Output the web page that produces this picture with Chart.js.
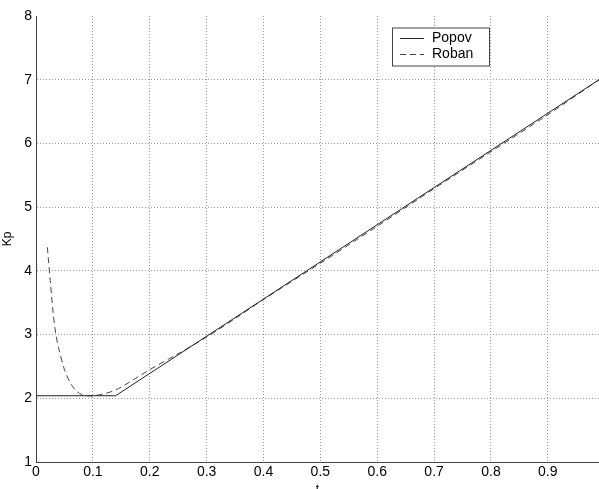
<!DOCTYPE html>
<html>
<head>
<meta charset="utf-8">
<script src="https://cdn.jsdelivr.net/npm/chart.js@4"></script>
<style>
  html, body { margin: 0; padding: 0; background: #fff; overflow: hidden; }
  #wrap { width: 599px; height: 497px; }
</style>
</head>
<body>
<div id="wrap"><canvas id="chartKp"></canvas></div>
<script>
'use strict';

// data
const popovX = [0, 0.14, 0.99];
const popovY = [2.04, 2.04, 7.0];

const robanX = [0.02, 0.025, 0.03, 0.035, 0.04, 0.05, 0.06, 0.07, 0.08, 0.09, 0.1, 0.12, 0.14, 0.16, 0.18, 0.2, 0.25, 0.3, 0.35, 0.4, 0.5, 0.6, 0.7, 0.8, 0.9, 0.99];
const robanY = [4.37, 3.85, 3.35, 3.0, 2.78, 2.45, 2.25, 2.12, 2.06, 2.04, 2.04, 2.07, 2.13, 2.23, 2.34, 2.45, 2.7, 2.96, 3.25, 3.55, 4.12, 4.7, 5.29, 5.87, 6.45, 7.0];

const xTicks = [0, 0.1, 0.2, 0.3, 0.4, 0.5, 0.6, 0.7, 0.8, 0.9];
const yTicks = [1, 2, 3, 4, 5, 6, 7, 8];
const seriesNames = ['Popov', 'Roban'];

const FONT = 'Liberation Sans, Arial, sans-serif';

function pts(xs, ys) {
  return xs.map((x, i) => ({ x: x, y: ys[i] }));
}

// legend box drawn inside the axes like matlab does
const boxLegend = {
  id: 'boxLegend',
  afterDraw(chart) {
    const ctx = chart.ctx;
    const x0 = 392, y0 = 27.5, w = 97, h = 38;
    ctx.save();
    ctx.fillStyle = '#fff';
    ctx.fillRect(x0, y0, w, h);
    ctx.strokeStyle = '#444';
    ctx.lineWidth = 1;
    ctx.strokeRect(x0 + 0.5, y0 + 0.5, w, h);
    chart.data.datasets.forEach((ds, i) => {
      const yy = y0 + 11 + i * 16;
      ctx.strokeStyle = ds.borderColor;
      ctx.lineWidth = 1;
      ctx.setLineDash(ds.borderDash || []);
      ctx.beginPath();
      ctx.moveTo(400, yy);
      ctx.lineTo(424, yy);
      ctx.stroke();
      ctx.setLineDash([]);
      ctx.fillStyle = '#000';
      ctx.font = '14px ' + FONT;
      ctx.textBaseline = 'middle';
      ctx.fillText(ds.label, 432, yy);
    });
    ctx.restore();
  }
};

new Chart(document.getElementById('chartKp'), {
  type: 'line',
  data: {
    datasets: [
      {
        label: seriesNames[0],
        data: pts(popovX, popovY),
        borderColor: '#222',
        borderWidth: 1,
        pointRadius: 0,
        tension: 0
      },
      {
        label: seriesNames[1],
        data: pts(robanX, robanY),
        borderColor: '#444',
        borderWidth: 1,
        borderDash: [6, 4],
        pointRadius: 0,
        tension: 0.3
      }
    ]
  },
  options: {
    responsive: true,
    maintainAspectRatio: false,
    animation: false,
    layout: { padding: { top: 16, right: 0, left: 0, bottom: 0 } },
    plugins: {
      legend: { display: false },
      tooltip: { enabled: false }
    },
    scales: {
      x: {
        type: 'linear',
        min: 0,
        max: 0.99,
        afterBuildTicks: (s) => { s.ticks = xTicks.map(v => ({ value: v })); },
        afterFit: (s) => { s.height = 35; },
        title: {
          display: true,
          text: 't',
          color: '#000',
          font: { family: FONT, size: 12 },
          padding: 0
        },
        ticks: {
          color: '#000',
          font: { family: FONT, size: 14 },
          padding: 2,
          maxRotation: 0,
          callback: (v) => String(Math.round(v * 10) / 10)
        },
        grid: {
          color: (c) => (c.tick && c.tick.value === 0) ? 'rgba(0,0,0,0)' : '#999',
          tickLength: 0
        },
        border: { color: '#444', width: 1, dash: [1, 2] }
      },
      y: {
        min: 1,
        max: 8,
        afterBuildTicks: (s) => { s.ticks = yTicks.map(v => ({ value: v })); },
        afterFit: (s) => { s.width = 36; },
        title: {
          display: true,
          text: 'Kp',
          color: '#000',
          font: { family: FONT, size: 12 },
          padding: 0
        },
        ticks: {
          color: '#000',
          font: { family: FONT, size: 14 },
          padding: 4
        },
        grid: {
          color: (c) => (c.tick && (c.tick.value === 8 || c.tick.value === 1)) ? 'rgba(0,0,0,0)' : '#999',
          tickLength: 0
        },
        border: { color: '#444', width: 1, dash: [1, 2] }
      }
    }
  },
  plugins: [boxLegend]
});
</script>
</body>
</html>
